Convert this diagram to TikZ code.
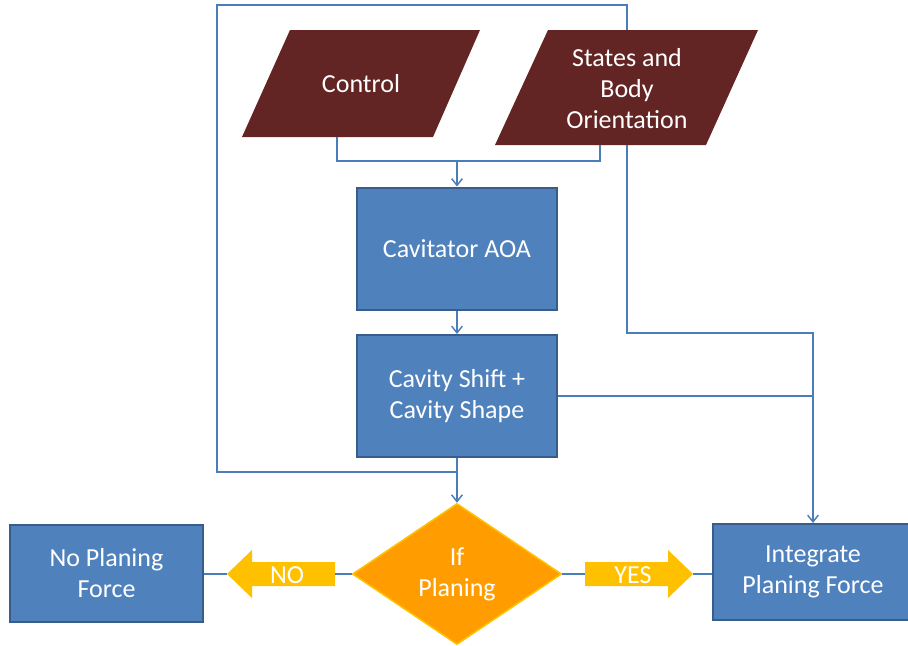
\documentclass[tikz,border=0pt]{standalone}
\usepackage{fontspec}
\setmainfont{Carlito}
\usetikzlibrary{shapes.geometric,arrows.meta}
\definecolor{boxblue}{HTML}{4F81BD}
\definecolor{boxedge}{HTML}{385D8A}
\definecolor{maroon}{HTML}{632523}
\definecolor{connblue}{HTML}{4A7EBB}
\definecolor{decfill}{HTML}{FF9C00}
\definecolor{decedge}{HTML}{FFC000}
\definecolor{arrfill}{HTML}{FFC000}
\tikzset{
  txt/.style={text=white, align=center, font=\fontsize{19.5pt}{23.25pt}\selectfont, inner sep=0pt},
  bluebox/.style={txt, rectangle, fill=boxblue, draw=boxedge, line width=1.5pt},
  decision/.style={txt, diamond, fill=decfill, draw=decedge, line width=1.2pt, inner sep=0pt},
  conn/.style={draw=connblue, line width=1.1pt},
  tip/.style={-{Straight Barb[length=5pt,width=8pt]}},
  blockarrow/.style={fill=arrfill}
}
\begin{document}
\begin{tikzpicture}[x=0.75pt,y=-0.75pt]
\clip (0,0) rectangle (908,646);
% input parallelograms
\fill[maroon] (290,30) -- (480,30) -- (433,137) -- (242,137) -- cycle;
\node[txt] (control) at (361,84) {Control};
\fill[maroon] (548,30) -- (758,30) -- (706,145) -- (495,145) -- cycle;
\node[txt] (states) at (627,89) {States and\\Body\\Orientation};
% process boxes
\node[bluebox, minimum width=150pt, minimum height=91.5pt] (cavit) at (457,248.5) {Cavitator AOA};
\node[bluebox, minimum width=150pt, minimum height=91.5pt] (shift) at (457,396) {Cavity Shift +\\Cavity Shape};
\node[bluebox, minimum width=144.75pt, minimum height=72.75pt] (noforce) at (106.5,573.5) {No Planing\\Force};
\node[bluebox, minimum width=150pt, minimum height=72pt] (integ) at (813,572) {Integrate\\Planing Force};
\node[decision, minimum width=156.75pt, minimum height=105.75pt] (dia) at (457,574) {If\\Planing};
% block arrows
\fill[blockarrow] (227,574) -- (252,550) -- (252,562) -- (335,562) -- (335,586) -- (252,586) -- (252,598) -- cycle;
\node[txt] (no) at (287,575) {NO};
\fill[blockarrow] (693,574) -- (668,550) -- (668,562) -- (585,562) -- (585,586) -- (668,586) -- (668,598) -- cycle;
\node[txt] (yes) at (633,575) {YES};
% connector points
\coordinate (ctrlout) at (337,137);
\coordinate (stout) at (600,145);
\coordinate (stout2) at (627,145);
\coordinate (sttop) at (627,30);
\coordinate (merge) at (457,161);
\coordinate (loopTL) at (217,5);
\coordinate (loopJ) at (457,472);
\coordinate (rjoin) at (813,333);
\coordinate (notip) at (227,574);
\coordinate (noback) at (335,574);
\coordinate (yestail) at (585,574);
\coordinate (yestip) at (693,574);
% connectors
\draw[conn] (ctrlout) |- (merge);
\draw[conn] (stout) |- (merge);
\draw[conn,tip] (merge) -- (cavit.north);
\draw[conn,tip] (cavit.south) -- (shift.north);
\draw[conn,tip] (shift.south) -- (dia.north);
\draw[conn] (sttop) |- (loopTL) |- (loopJ);
\draw[conn,tip] (stout2) |- (rjoin) -- (integ.north);
\draw[conn] (shift.east) -- (shift.east -| rjoin);
\draw[conn] (dia.west) -- (noback);
\draw[conn] (notip) -- (noforce.east |- notip);
\draw[conn] (dia.east) -- (yestail);
\draw[conn] (yestip) -- (integ.west |- yestip);
\end{tikzpicture}
\end{document}
